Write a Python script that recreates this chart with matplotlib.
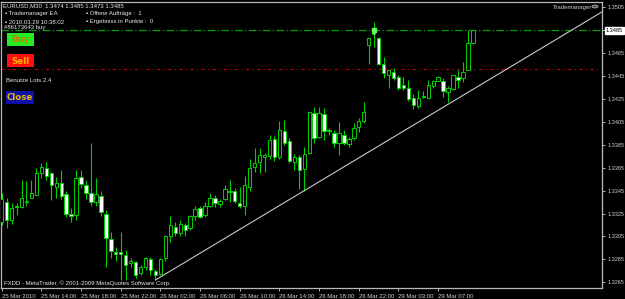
import matplotlib
matplotlib.use("Agg")
import matplotlib.pyplot as plt
from matplotlib.patches import Rectangle, Circle
from matplotlib import font_manager

# ---------------- data (EURUSD M30) ----------------
opens = [1.3318, 1.3335, 1.3319, 1.3332, 1.3331, 1.3335, 1.3339, 1.3341, 1.3360, 1.3365,
         1.3360, 1.3348, 1.3352, 1.3342, 1.3325, 1.3324, 1.3357, 1.3350, 1.3343, 1.3335,
         1.3340, 1.3325, 1.3303, 1.3291, 1.3291, 1.3289, 1.3282, 1.3283, 1.3273, 1.3278,
         1.3285, 1.3275, 1.3272, 1.3286, 1.3305, 1.3313, 1.3308, 1.3315, 1.3312, 1.3323,
         1.3330, 1.3324, 1.3332, 1.3339, 1.3333, 1.3338, 1.3345, 1.3345, 1.3334, 1.3332,
         1.3348, 1.3366, 1.3370, 1.3374, 1.3375, 1.3390, 1.3374, 1.3397, 1.3388, 1.3370,
         1.3374, 1.3364, 1.3378, 1.3413, 1.3392, 1.3412, 1.3398, 1.3395, 1.3387, 1.3394,
         1.3386, 1.3391, 1.3401, 1.3406, 1.3472, 1.3484, 1.3478, 1.3456, 1.3446, 1.3449,
         1.3444, 1.3437, 1.3435, 1.3426, 1.3419, 1.3428, 1.3426, 1.3436, 1.3441, 1.3441,
         1.3431, 1.3434, 1.3444, 1.3443, 1.3450, 1.3474]
closes = [1.3338, 1.3319, 1.3330, 1.3331, 1.3339, 1.3336, 1.3343, 1.3360, 1.3366, 1.3358,
          1.3350, 1.3352, 1.3340, 1.3325, 1.3323, 1.3356, 1.3351, 1.3343, 1.3335, 1.3342,
          1.3326, 1.3304, 1.3292, 1.3290, 1.3290, 1.3280, 1.3284, 1.3271, 1.3278, 1.3286,
          1.3276, 1.3271, 1.3285, 1.3305, 1.3315, 1.3308, 1.3316, 1.3311, 1.3323, 1.3329,
          1.3322, 1.3332, 1.3339, 1.3334, 1.3336, 1.3346, 1.3344, 1.3336, 1.3332, 1.3350,
          1.3365, 1.3369, 1.3376, 1.3376, 1.3389, 1.3374, 1.3398, 1.3387, 1.3371, 1.3374,
          1.3363, 1.3377, 1.3414, 1.3391, 1.3413, 1.3397, 1.3397, 1.3387, 1.3395, 1.3387,
          1.3390, 1.3400, 1.3406, 1.3414, 1.3478, 1.3482, 1.3456, 1.3448, 1.3450, 1.3443,
          1.3435, 1.3435, 1.3425, 1.3420, 1.3426, 1.3427, 1.3437, 1.3441, 1.3444, 1.3432,
          1.3435, 1.3446, 1.3442, 1.3449, 1.3474, 1.3485]
highs = [1.3343, 1.3339, 1.3334, 1.3334, 1.3354, 1.3353, 1.3354, 1.3365, 1.3369, 1.3370,
         1.3361, 1.3357, 1.3363, 1.3345, 1.3330, 1.3363, 1.3363, 1.3354, 1.3387, 1.3356,
         1.3345, 1.3328, 1.3309, 1.3296, 1.3309, 1.3293, 1.3286, 1.3284, 1.3280, 1.3287,
         1.3287, 1.3277, 1.3286, 1.3306, 1.3323, 1.3318, 1.3319, 1.3317, 1.3324, 1.3332,
         1.3332, 1.3335, 1.3343, 1.3341, 1.3338, 1.3350, 1.3354, 1.3347, 1.3348, 1.3358,
         1.3373, 1.3382, 1.3382, 1.3378, 1.3394, 1.3393, 1.3406, 1.3407, 1.3391, 1.3377,
         1.3376, 1.3383, 1.3414, 1.3418, 1.3418, 1.3417, 1.3400, 1.3398, 1.3405, 1.3398,
         1.3392, 1.3404, 1.3408, 1.3422, 1.3478, 1.3492, 1.3479, 1.3462, 1.3450, 1.3452,
         1.3446, 1.3444, 1.3442, 1.3429, 1.3433, 1.3432, 1.3442, 1.3442, 1.3445, 1.3443,
         1.3436, 1.3446, 1.3450, 1.3457, 1.3485, 1.3485]
lows = [1.3315, 1.3312, 1.3316, 1.3324, 1.3330, 1.3332, 1.3339, 1.3341, 1.3356, 1.3354,
        1.3337, 1.3339, 1.3338, 1.3322, 1.3318, 1.3319, 1.3347, 1.3338, 1.3332, 1.3332,
        1.3323, 1.3278, 1.3286, 1.3284, 1.3267, 1.3267, 1.3278, 1.3269, 1.3271, 1.3276,
        1.3271, 1.3267, 1.3271, 1.3284, 1.3300, 1.3305, 1.3305, 1.3305, 1.3311, 1.3319,
        1.3321, 1.3322, 1.3331, 1.3331, 1.3331, 1.3337, 1.3335, 1.3334, 1.3330, 1.3324,
        1.3345, 1.3361, 1.3360, 1.3361, 1.3373, 1.3371, 1.3373, 1.3385, 1.3369, 1.3363,
        1.3346, 1.3345, 1.3377, 1.3387, 1.3391, 1.3389, 1.3394, 1.3383, 1.3376, 1.3385,
        1.3383, 1.3389, 1.3396, 1.3404, 1.3456, 1.3470, 1.3455, 1.3443, 1.3435, 1.3442,
        1.3433, 1.3433, 1.3423, 1.3416, 1.3417, 1.3426, 1.3426, 1.3435, 1.3441, 1.3427,
        1.3422, 1.3433, 1.3435, 1.3440, 1.3450, 1.3473]

time_tick_bars = [0, 8, 16, 24, 32, 40, 48, 56, 64, 72, 80, 88]
time_tick_labels = ["25 Mar 2010", "25 Mar 14:00", "25 Mar 18:00", "25 Mar 22:00",
                    "26 Mar 02:00", "26 Mar 06:00", "26 Mar 10:00", "26 Mar 14:00",
                    "26 Mar 18:00", "26 Mar 22:00", "29 Mar 03:00", "29 Mar 07:00"]
price_ticks = [1.3265, 1.3285, 1.3305, 1.3325, 1.3345, 1.3365, 1.3385, 1.3405,
               1.3425, 1.3445, 1.3465, 1.3485, 1.3505]
bid_price = 1.3485
buy_level = 1.3485
red_level = 1.3451
buy_bar = 75
trend_a = (31, 1.3267)
trend_b = (61, 1.3345)

# ---------------- fonts ----------------
def pick(names):
    for n in names:
        try:
            font_manager.findfont(n, fallback_to_default=False)
            return n
        except Exception:
            pass
    return "DejaVu Sans"

FONT = pick(["Liberation Sans Narrow", "Liberation Sans", "DejaVu Sans"])
FS = 4.3
FSY = 4.0

W, H = 625, 299
fig = plt.figure(figsize=(W / 100, H / 100), dpi=100, facecolor="black")

def fx(x):
    return x / W

def fy(y):
    return 1 - y / H

ax = fig.add_axes([fx(1), fy(288), fx(602) - fx(1), fy(2) - fy(288)])
ax.set_facecolor("black")

GREEN = "#00d000"
n = len(opens)
xs = list(range(n))

# wicks
ax.vlines(xs, lows, highs, color=GREEN, linewidth=0.8, zorder=2)
# bodies
for i in xs:
    o, c = opens[i], closes[i]
    bottom = min(o, c)
    hgt = max(abs(c - o), 0.00004)
    face = "black" if c >= o else "white"
    ax.add_patch(Rectangle((i - 0.34, bottom), 0.68, hgt, facecolor=face,
                           edgecolor=GREEN, linewidth=0.7, zorder=3))

# levels
ax.axhline(buy_level, color="#00a000", linewidth=0.9, linestyle=(0, (6, 2, 1, 2)), zorder=1)
ax.axhline(red_level, color="#c00000", linewidth=0.8, linestyle=(0, (3, 3, 1, 3)), zorder=1)

# trend line
x_left, x_right = -0.14, 121.03
slope = (trend_b[1] - trend_a[1]) / (trend_b[0] - trend_a[0])
ax.plot([trend_a[0], x_right + 2], [trend_a[1], trend_a[1] + slope * (x_right + 2 - trend_a[0])],
        color="#c8c8c8", linewidth=0.8, zorder=4)

# buy marker
ax.plot([buy_bar], [buy_level], marker="s", markersize=2.5, color="#60ff60", zorder=5)

ax.set_xlim(x_left, x_right)
ax.set_ylim(1.32600, 1.35097)

for s in ax.spines.values():
    s.set_color("#b8b8b8")
    s.set_linewidth(0.9)

ax.yaxis.tick_right()
ax.set_yticks(price_ticks)
ax.set_yticklabels(["" if abs(p - bid_price) < 1e-7 else f"{p:.4f}" for p in price_ticks])
ax.tick_params(axis="y", colors="#d0d0d0", labelsize=FSY, length=2.5, width=0.6, pad=1.2,
               labelfontfamily=FONT)
ax.set_xticks(time_tick_bars)
ax.set_xticklabels(time_tick_labels, ha="left")
ax.tick_params(axis="x", colors="#d0d0d0", labelsize=FS, length=2.5, width=0.6, pad=1.5,
               labelfontfamily=FONT)

# current bid label
ax.text(1.0065, bid_price, f"{bid_price:.4f}", transform=ax.get_yaxis_transform(),
        ha="left", va="center", fontsize=FSY, family=FONT, color="black",
        bbox=dict(boxstyle="square,pad=0.15", facecolor="white", edgecolor="white"), zorder=6)

# ---------------- overlay texts ----------------
TXT = "#e8e8e8"
FAM = [FONT, "DejaVu Sans"]
fig.text(fx(3), fy(6), "EURUSD,M30  1.3474 1.3485 1.3473 1.3485", color=TXT, fontsize=FS,
         family=FAM, va="center")
fig.text(fx(5), fy(14), "▪ Trademanager EA", color=TXT, fontsize=FS, family=FAM, va="center")
fig.text(fx(86), fy(14), "▪ Offene Aufträge :  1", color=TXT, fontsize=FS, family=FAM, va="center")
fig.text(fx(5), fy(22), "▪ 2010.03.29 10:38:02", color=TXT, fontsize=FS, family=FAM, va="center")
fig.text(fx(86), fy(22), "▪ Ergebniss in Punkte :  0", color=TXT, fontsize=FS, family=FAM, va="center")
fig.text(fx(4), fy(28), "#86173643 buy", color=TXT, fontsize=FS, family=FAM, va="center")
fig.text(fx(6), fy(80), "Benutze Lots 2.4", color=TXT, fontsize=FS, family=FAM, va="center")
fig.text(fx(4), fy(283), "FXDD - MetaTrader, © 2001-2009 MetaQuotes Software Corp.", color=TXT,
         fontsize=FS, family=FAM, va="center")
fig.text(fx(553), fy(7), "Trademanager", color="#d0d0d0", fontsize=FS, family=FAM, va="center")
fig.add_artist(Circle((fx(595), fy(6.5)), 3 / W, transform=fig.transFigure, facecolor="#505050",
                      edgecolor="#b0b0b0", linewidth=0.6))

def button(x0, y0, x1, y1, face, label, tcol):
    fig.add_artist(Rectangle((fx(x0), fy(y1)), fx(x1) - fx(x0), fy(y0) - fy(y1),
                             transform=fig.transFigure, facecolor=face, edgecolor="none",
                             zorder=5))
    t = fig.text(fx((x0 + x1) / 2), fy((y0 + y1) / 2 + 0.5), label, color=tcol, fontsize=6.2,
                 fontweight="bold", family="DejaVu Sans", ha="center", va="center")
    t.set_zorder(10)

button(7, 33, 34, 46, "#22ee22", "Buy", "#c08000")
button(7, 54, 34, 67, "#ff1010", "Sell", "#ffb000")
button(6, 91, 34, 104, "#1010a8", "Close", "#e8b800")

fig.savefig("out.png", dpi=100, facecolor="black")
